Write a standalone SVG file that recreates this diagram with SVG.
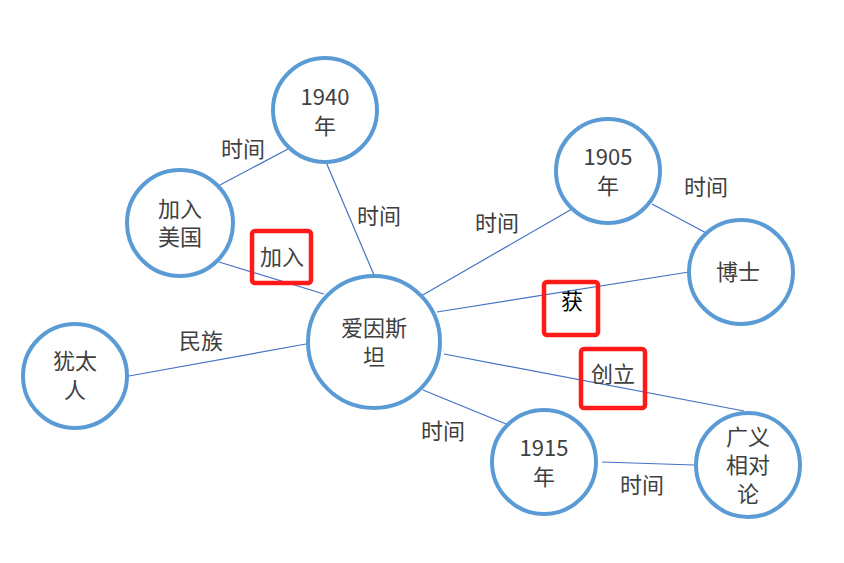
<svg xmlns="http://www.w3.org/2000/svg" width="844" height="563" viewBox="0 0 844 563">
<style>
.node{fill:#fff;stroke:#5B9BD5;stroke-width:4}
.edge{stroke:#4472C4;stroke-width:1.2;fill:none}
text{font-family:"Noto Sans CJK SC","Noto Sans",sans-serif;font-size:22px;fill:#404040;text-anchor:middle;dominant-baseline:central}
.hl{fill:none;stroke:#FF1A1A;stroke-width:4.5}
</style>
<rect width="844" height="563" fill="#fff"/>
<g id="connectors">
<line class="edge" x1="288" y1="149" x2="220" y2="185"/>
<line class="edge" x1="326" y1="162" x2="374" y2="275"/>
<line class="edge" x1="219" y1="262" x2="324" y2="294"/>
<line class="edge" x1="129" y1="376" x2="306" y2="344"/>
<line class="edge" x1="421" y1="296" x2="572" y2="209"/>
<line class="edge" x1="437" y1="312" x2="689" y2="272"/>
<line class="edge" x1="652" y1="204" x2="708" y2="234"/>
<line class="edge" x1="444" y1="354" x2="744" y2="411"/>
<line class="edge" x1="423" y1="390" x2="506" y2="424"/>
<line class="edge" x1="602" y1="462" x2="694" y2="465"/>
</g>
<g id="edge-labels">
<text x="243" y="147">时间</text>
<text x="379" y="214">时间</text>
<rect class="hl" x="252" y="231" width="59" height="52" rx="3"/>
<text x="282" y="255">加入</text>
<text x="201" y="339">民族</text>
<text x="497" y="221">时间</text>
<text x="706" y="185">时间</text>
<rect class="hl" x="544" y="282" width="54" height="53" rx="3"/>
<text x="572" y="299" style="fill:#000">获</text>
<rect class="hl" x="581" y="349" width="64" height="59" rx="3"/>
<text x="613" y="372">创立</text>
<text x="443" y="429">时间</text>
<text x="642" y="483">时间</text>
</g>
<g id="n1940"><circle class="node" cx="325" cy="110" r="52"/><text x="325" y="95">1940</text><text x="325" y="124">年</text></g>
<g id="njoinus"><circle class="node" cx="180" cy="223" r="53"/><text x="180" y="207">加入</text><text x="180" y="235">美国</text></g>
<g id="n1905"><circle class="node" cx="608" cy="171" r="52"/><text x="608" y="155">1905</text><text x="608" y="184">年</text></g>
<g id="ndoctor"><circle class="node" cx="741" cy="272" r="52"/><text x="738" y="270">博士</text></g>
<g id="neinstein"><circle class="node" cx="374" cy="342" r="66"/><text x="374" y="326">爱因斯</text><text x="374" y="355">坦</text></g>
<g id="njewish"><circle class="node" cx="75" cy="376" r="52"/><text x="75" y="359">犹太</text><text x="75" y="388">人</text></g>
<g id="n1915"><circle class="node" cx="544" cy="462" r="52"/><text x="544" y="446">1915</text><text x="544" y="475">年</text></g>
<g id="nrelativity"><circle class="node" cx="748" cy="465" r="52"/><text x="748" y="435">广义</text><text x="748" y="463">相对</text><text x="748" y="492">论</text></g>
</svg>
